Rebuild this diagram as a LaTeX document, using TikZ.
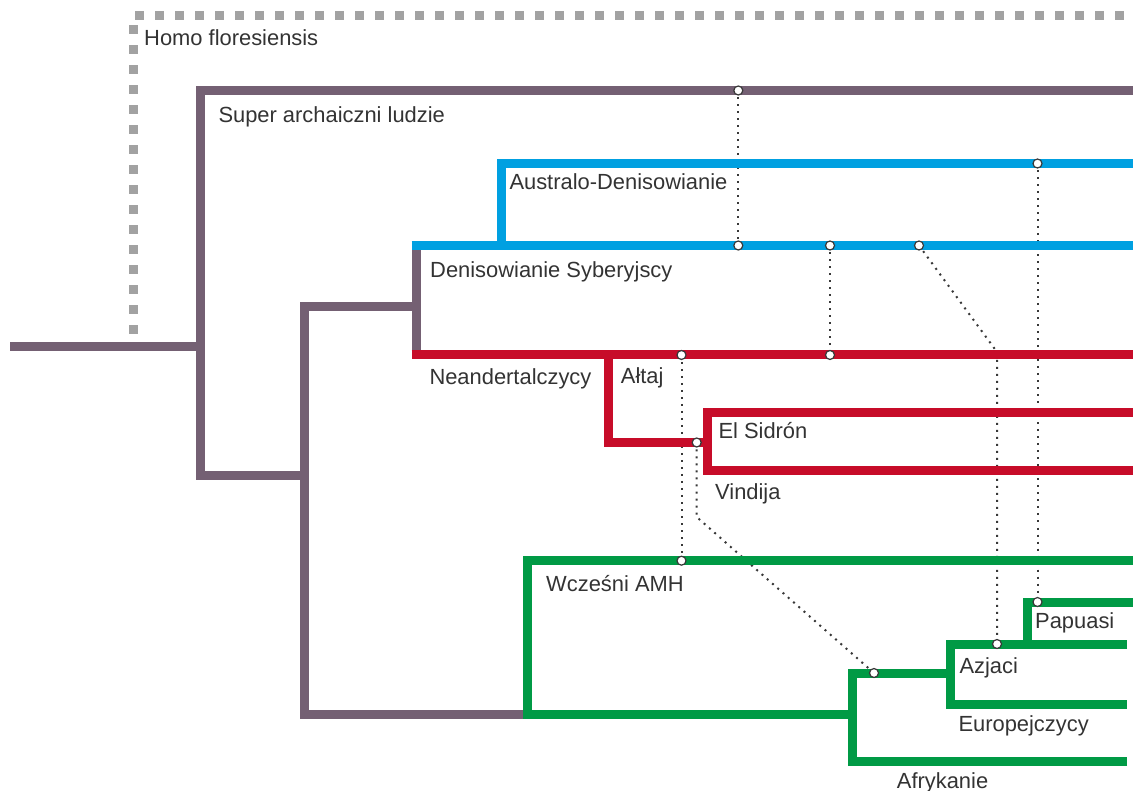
\documentclass[tikz,border=0pt]{standalone}
\usepackage{fontspec}
\setmainfont{Liberation Sans}
\definecolor{archaic}{HTML}{746073}
\definecolor{deniso}{HTML}{00A0E1}
\definecolor{neander}{HTML}{C70C29}
\definecolor{sapiens}{HTML}{009A45}
\definecolor{floresgray}{HTML}{A2A2A2}
\definecolor{flowgray}{HTML}{383838}
\definecolor{labelgray}{HTML}{333333}
\begin{document}
\begin{tikzpicture}[x=1pt,y=-1pt,
  branch/.style={line width=9pt, line join=miter, line cap=butt},
  archaicbr/.style={branch, draw=archaic},
  denisobr/.style={branch, draw=deniso},
  neanderbr/.style={branch, draw=neander},
  sapiensbr/.style={branch, draw=sapiens},
  floresbr/.style={line width=9pt, draw=floresgray, dash pattern=on 9pt off 11pt},
  geneflow/.style={draw=flowgray, line width=2pt, dash pattern=on 2pt off 5pt},
  ring/.style={circle, fill=white, draw=flowgray, line width=1.2pt, inner sep=0pt, minimum size=9pt},
  taxon/.style={anchor=base west, inner sep=0pt, text=labelgray, font=\fontsize{21.9}{26}\selectfont}]
\useasboundingbox (0,0) rectangle (1133,791);

% admixture points
\coordinate (sA) at (738.3,90.5);
\coordinate (sB) at (738.3,245.5);
\coordinate (adA) at (1037.5,163.5);
\coordinate (paA) at (1037.5,602);
\coordinate (dsA) at (830,245.5);
\coordinate (neA) at (830,355);
\coordinate (dsB) at (919,245.5);
\coordinate (azA) at (997,644);
\coordinate (bendA) at (997,352);
\coordinate (alA) at (681.5,355);
\coordinate (amA) at (681.5,560.7);
\coordinate (alB) at (696.7,442.5);
\coordinate (bendB) at (696.7,517);
\coordinate (ooA) at (874,673);

% gene flow (under the branches)
\draw[geneflow] (sA) -- (sB);
\draw[geneflow] (adA) -- (paA);
\draw[geneflow] (dsA) -- (neA);
\draw[geneflow] (dsB) -- (bendA) -- (azA);
\draw[geneflow] (alA) -- (amA);
\draw[geneflow] (alB) -- (bendB) -- (ooA);

% Homo floresiensis
\draw[floresbr] (133,334) -- (133,16) -- (1133,16);

% archaic stem
\draw[archaicbr] (10,347) -- (200,347);
\draw[archaicbr] (1133,90.5) -- (200,90.5) -- (200,475.5) -- (304,475.5);
\draw[archaicbr] (416,245.5) -- (416,355);
\draw[archaicbr] (416,307) -- (304,307) -- (304,714) -- (527.5,714);

% Denisovans
\draw[denisobr] (411.5,245.5) -- (1133,245.5);
\draw[denisobr] (501,245.5) -- (501,163.5) -- (1133,163.5);

% Neanderthals
\draw[neanderbr] (411.5,355) -- (1133,355);
\draw[neanderbr] (608.5,355) -- (608.5,442.5) -- (707,442.5);
\draw[neanderbr] (1133,412.5) -- (707,412.5) -- (707,471) -- (1133,471);

% modern humans
\draw[sapiensbr] (1133,560.7) -- (527.5,560.7) -- (527.5,714) -- (852,714);
\draw[sapiensbr] (1127,761) -- (852,761) -- (852,673) -- (950,673);
\draw[sapiensbr] (1127,644) -- (950,644) -- (950,704) -- (1127,704);
\draw[sapiensbr] (1133,602) -- (1027.5,602) -- (1027.5,644);

% admixture markers
\foreach \p in {sA,sB,adA,paA,dsA,neA,dsB,azA,alA,amA,alB,ooA}
  \node[ring] (m\p) at (\p) {};

% labels
\node[taxon] (tFlo) at (144,45.7) {Homo floresiensis};
\node[taxon] (tSup) at (218.3,122.3) {Super archaiczni ludzie};
\node[taxon] (tAus) at (509.3,190) {Australo-Denisowianie};
\node[taxon] (tDen) at (430,277.7) {Denisowianie Syberyjscy};
\node[taxon] (tNea) at (429.3,384.3) {Neandertalczycy};
\node[taxon] (tAlt) at (620.7,384) {Ałtaj};
\node[taxon] (tSid) at (718.3,439) {El Sidrón};
\node[taxon] (tVin) at (715,500) {Vindija};
\node[taxon] (tAmh) at (546,591.7) {Wcześni AMH};
\node[taxon] (tPap) at (1035,628.3) {Papuasi};
\node[taxon] (tAzj) at (959.3,673.3) {Azjaci};
\node[taxon] (tEur) at (958.3,731.7) {Europejczycy};
\node[taxon] (tAfr) at (896.7,788.5) {Afrykanie};
\end{tikzpicture}
\end{document}
